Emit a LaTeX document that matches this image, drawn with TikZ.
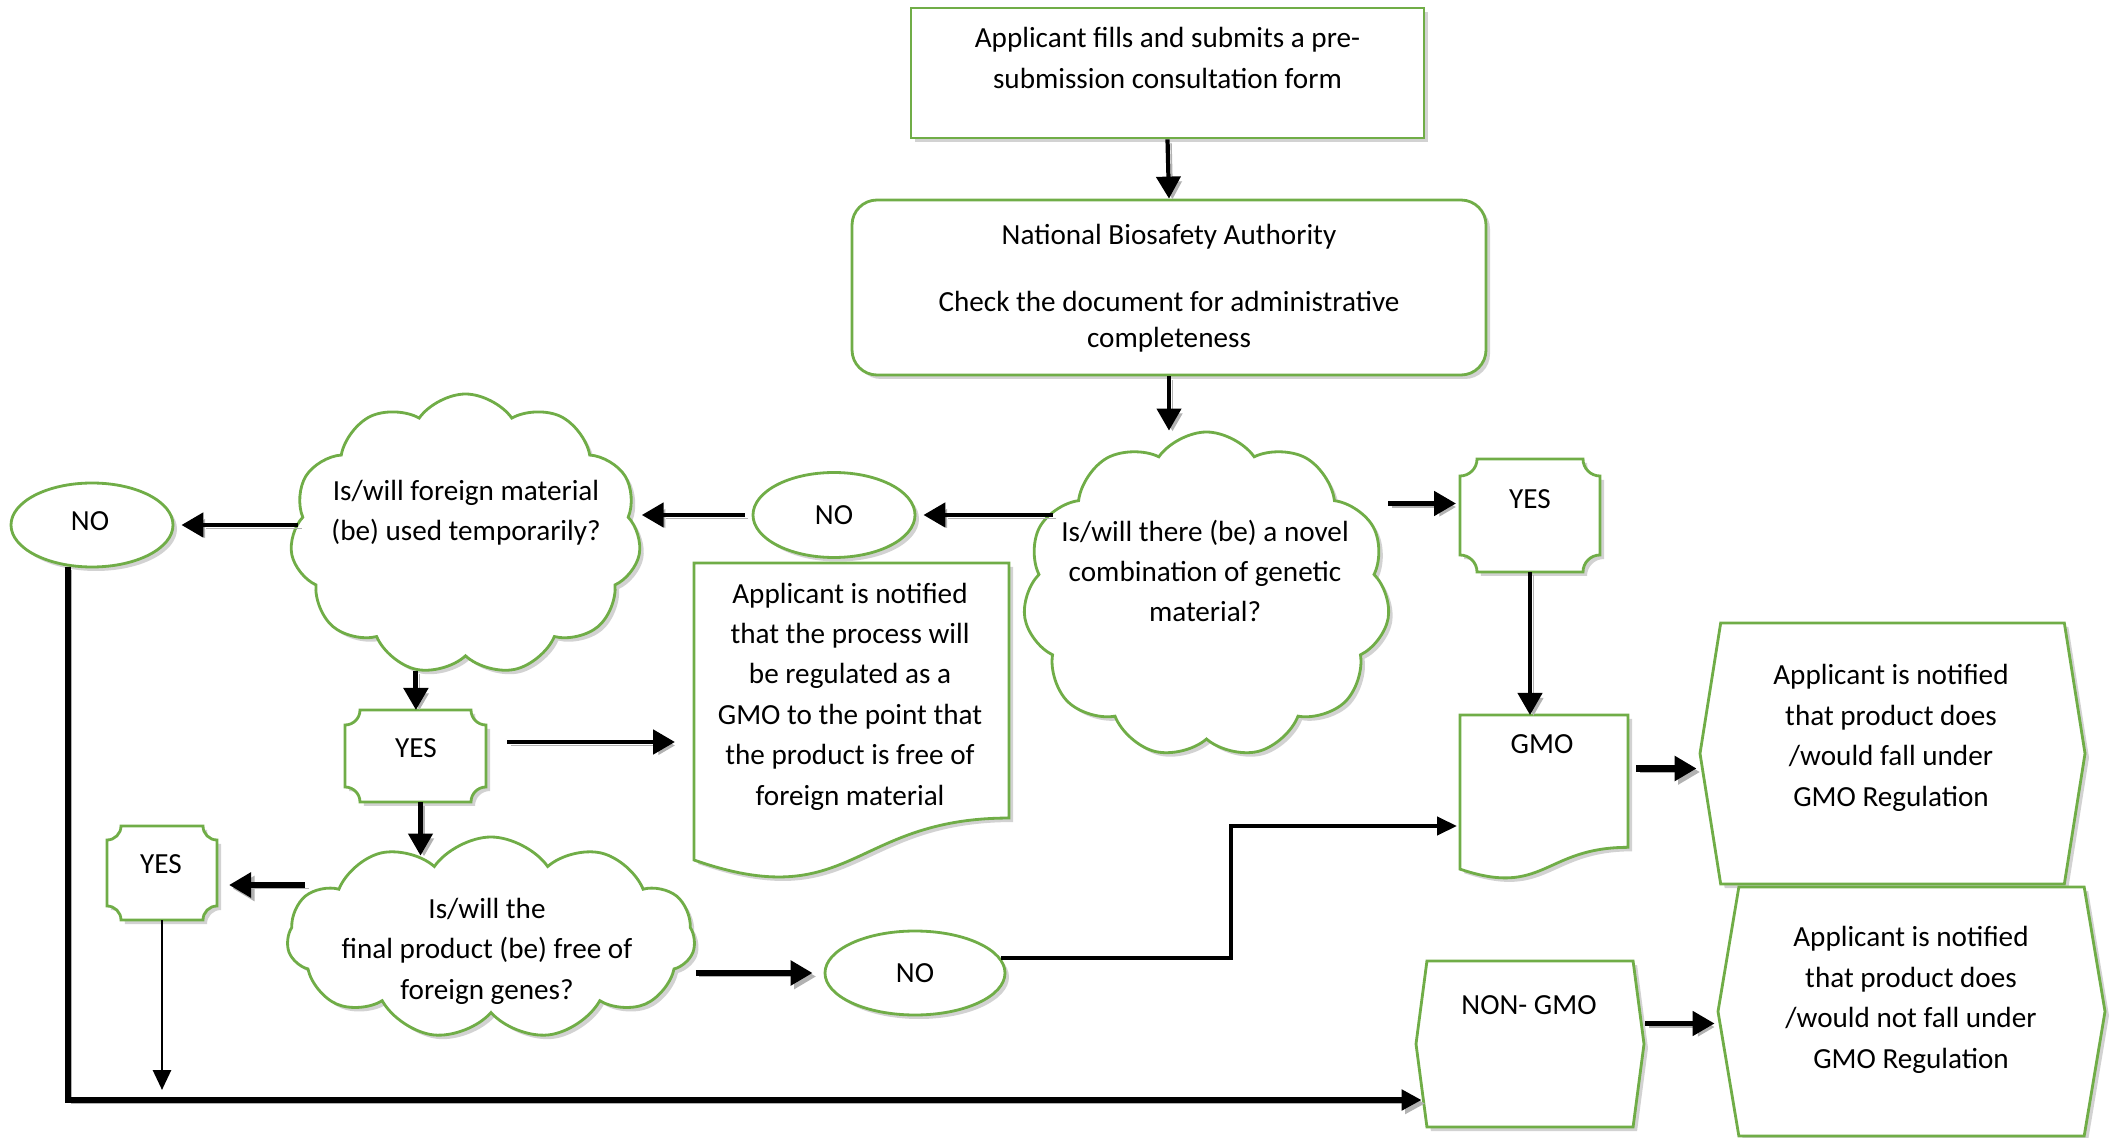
\documentclass[tikz,border=0pt]{standalone}
\usepackage{fontspec}
\setmainfont{Carlito}
\usepackage{tikz}
\usetikzlibrary{calc,shapes.symbols,shapes.geometric,shadows,arrows.meta}

% placa con esquinas hundidas alrededor de un nodo
\newcommand{\plaque}[2]{%
  \draw[shapeline] ($(#1.north west)+(#2,0)$) -- ($(#1.north east)+(-#2,0)$)
    arc[start angle=180,end angle=270,radius=#2] -- ($(#1.south east)+(0,#2)$)
    arc[start angle=90,end angle=180,radius=#2] -- ($(#1.south west)+(#2,0)$)
    arc[start angle=0,end angle=90,radius=#2] -- ($(#1.north west)+(0,-#2)$)
    arc[start angle=270,end angle=360,radius=#2] -- cycle;}

% documento con borde ondulado abajo
\newcommand{\docshape}[1]{%
  \draw[shapeline] (#1.north west) -- (#1.north east)
    -- ($(#1.north east)!0.802!(#1.south east)$)
    .. controls ($(#1.north)!0.802!(#1.south)$) and ($(#1.north)!1.1075!(#1.south)$)
    .. ($(#1.north west)!0.934!(#1.south west)$) -- cycle;}

\begin{document}
\begin{tikzpicture}[
    shapeline/.style={draw=mygreen, line width=0.8pt, fill=white,
      drop shadow={shadow xshift=0.04cm, shadow yshift=-0.04cm, fill=black!35}},
    holder/.style={inner sep=0pt, outer sep=0pt},
    txt/.style={align=center, inner sep=0pt, font=\fontsize{8.3}{11.5}\selectfont},
    arr/.style={-{Triangle[length=0.22cm,width=0.24cm]}, line width=1.4pt,
      preaction={draw=black!30, transform canvas={shift={(0.035cm,-0.035cm)}}}},
    thinarr/.style={-{Triangle[length=0.2cm,width=0.18cm]}, line width=0.8pt},
    bigarr/.style={arr, line width=1.9pt}
  ]
    \definecolor{mygreen}{RGB}{112,173,71}
    \useasboundingbox (0,0) rectangle (21.16,-11.38);

    % Formulario de consulta
    \node[shapeline, rectangle, minimum width=5.13cm, minimum height=1.30cm] (subm) at (11.675,-0.73) {};
    \node[txt] (submtext) at (11.675,-0.58) {Applicant fills and submits a pre-\\submission consultation form};

    % Autoridad
    \node[shapeline, rectangle, rounded corners=0.25cm, minimum width=6.34cm, minimum height=1.75cm] (nba) at (11.69,-2.875) {};
    \node[txt, font=\fontsize{8.3}{10.2}\selectfont] (nbatext) at (11.69,-2.88)
      {National Biosafety Authority\\[9pt]Check the document for administrative\\completeness};

    % Nube: combinacion novedosa
    \node[shapeline, cloud, cloud puffs=11, cloud puff arc=110, cloud ignores aspect,
      minimum width=3.67cm, minimum height=3.26cm] (novel) at (12.065,-5.95) {};
    \node[txt] (noveltext) at (12.05,-5.71) {Is/will there (be) a novel\\combination of genetic\\material?};

    % NO del centro
    \node[shapeline, ellipse, minimum width=1.62cm, minimum height=0.85cm] (nomid) at (8.34,-5.15) {};
    \node[txt] (nomidtext) at (nomid) {NO};

    % Nube: material temporal
    \node[shapeline, cloud, cloud puffs=11, cloud puff arc=110, cloud ignores aspect,
      minimum width=3.51cm, minimum height=2.81cm] (temp) at (4.655,-5.345) {};
    \node[txt] (temptext) at (4.66,-5.13) {Is/will foreign material\\(be) used temporarily?};

    % NO de la izquierda
    \node[shapeline, ellipse, minimum width=1.62cm, minimum height=0.84cm] (noleft) at (0.92,-5.25) {};
    \node[txt] (nolefttext) at (0.90,-5.21) {NO};

    % YES de la derecha
    \node[holder, minimum width=1.40cm, minimum height=1.13cm] (yesnov) at (15.30,-5.155) {};
    \plaque{yesnov}{0.17}
    \node[txt] (yesnovtext) at (15.30,-4.99) {YES};

    % GMO
    \node[holder, minimum width=1.68cm, minimum height=1.65cm] (gmo) at (15.44,-7.975) {};
    \docshape{gmo}
    \node[txt] (gmotext) at (15.42,-7.44) {GMO};

    % Aviso: GMO
    \node[shapeline, signal, signal to=west and east, signal pointer angle=162,
      minimum width=3.85cm, minimum height=2.61cm] (notgmo) at (18.925,-7.535) {};
    \node[txt] (notgmotext) at (18.91,-7.38) {Applicant is notified\\that product does\\/would fall under\\GMO Regulation};

    % NON-GMO
    \node[shapeline, signal, signal to=west and east, signal pointer angle=165,
      minimum width=2.28cm, minimum height=1.66cm] (nongmo) at (15.30,-10.44) {};
    \node[txt] (nongmotext) at (15.29,-10.05) {NON- GMO};

    % Aviso: no GMO
    \node[shapeline, signal, signal to=west and east, signal pointer angle=161,
      minimum width=3.87cm, minimum height=2.49cm] (notnon) at (19.115,-10.115) {};
    \node[txt] (notnontext) at (19.11,-10.00) {Applicant is notified\\that product does\\/would not fall under\\GMO Regulation};

    % YES bajo la nube temporal
    \node[holder, minimum width=1.41cm, minimum height=0.92cm] (yestemp) at (4.155,-7.56) {};
    \plaque{yestemp}{0.15}
    \node[txt] (yestemptext) at (4.16,-7.48) {YES};

    % Proceso regulado
    \node[holder, minimum width=3.15cm, minimum height=3.18cm] (procbox) at (8.515,-7.22) {};
    \docshape{procbox}
    \node[txt] (procboxtext) at (8.50,-6.965) {Applicant is notified\\that the process will\\be regulated as a\\GMO to the point that\\the product is free of\\foreign material};

    % Nube: producto final
    \node[shapeline, cloud, cloud puffs=11, cloud puff arc=110, cloud ignores aspect,
      minimum width=4.08cm, minimum height=2.02cm] (final) at (4.91,-9.38) {};
    \node[txt] (finaltext) at (4.87,-9.51) {Is/will the\\final product (be) free of\\foreign genes?};

    % YES de la izquierda
    \node[holder, minimum width=1.10cm, minimum height=0.94cm] (yesleft) at (1.62,-8.73) {};
    \plaque{yesleft}{0.14}
    \node[txt] (yeslefttext) at (1.61,-8.64) {YES};

    % NO de abajo
    \node[shapeline, ellipse, minimum width=1.80cm, minimum height=0.84cm] (nobot) at (9.15,-9.73) {};
    \node[txt] (nobottext) at (nobot) {NO};

    % puntos de llegada
    \coordinate (yesnovin) at ([yshift=0.12cm]yesnov.west);
    \coordinate (gmoin) at ([yshift=-0.15cm]notgmo.west);
    \coordinate (nonin) at ([yshift=-0.12cm]notnon.west);
    \coordinate (yesleftin) at ([yshift=-0.12cm]yesleft.east);
    \coordinate (finalout) at ([xshift=-1.86cm]final.center);
    \coordinate (gmoleft) at ([yshift=-0.285cm]gmo.west);
    \coordinate (nongmoin) at ([xshift=0.07cm,yshift=-0.56cm]nongmo.west);
    \coordinate (yesleftend) at ([yshift=-1.70cm]yesleft.south);

    % Flechas
    \draw[arr, line width=1.2pt] (subm.south) -- (nba.north);
    \draw[arr, line width=1.2pt] (nba.south) -- (nba.south |- novel.north);
    \draw[arr, shorten >=0.07cm] ([xshift=0.28cm]novel.west |- nomid) -- (nomid);
    \draw[arr, shorten >=0.02cm] ([xshift=-0.07cm]nomid.west) -- (nomid -| temp.east);
    \draw[arr, shorten >=0.07cm] ([xshift=0.07cm]temp.west |- noleft) -- (noleft);
    \draw[arr, shorten >=0.04cm] (novel.east |- yesnovin) -- (yesnovin);
    \draw[arr, line width=1.2pt] (yesnov.south) -- (yesnov.south |- gmo.north);
    \draw[bigarr, shorten <=0.08cm, shorten >=0.02cm] (gmo.east |- gmoin) -- (gmoin);
    \draw[arr, shorten >=0.02cm] (nongmo.east |- nonin) -- (nonin);
    \draw[arr] (temp.250) -- (temp.250 |- yestemp.north);
    \draw[arr, shorten <=0.21cm, shorten >=0.19cm] ([yshift=0.14cm]yestemp.east) -- ([yshift=0.14cm]yestemp.east -| procbox.west);
    \draw[arr, line width=1.2pt, shorten >=-0.2cm] ([xshift=0.05cm]yestemp.south) -- ([xshift=0.05cm]yestemp.south |- final.north);
    \draw[bigarr, shorten >=0.12cm] (finalout |- yesleftin) -- (yesleftin);
    \draw[thinarr] (yesleft.south) -- (yesleftend);
    \draw[bigarr, shorten >=0.11cm] (final.east |- nobot) -- (nobot);
    \draw[thinarr, line width=1.2pt, shorten >=0.03cm] (nobot.10) -- ++(2.3,0) |- (gmoleft);
    \draw[bigarr, -{Triangle[length=0.2cm,width=0.2cm]}] (noleft.240) |- (nongmoin);
  \end{tikzpicture}
\end{document}
